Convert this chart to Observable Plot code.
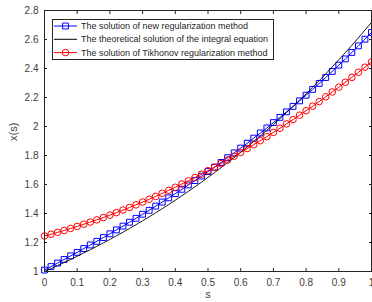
<!DOCTYPE html>
<html><head><meta charset="utf-8">
<script src="https://cdn.jsdelivr.net/npm/d3@7"></script>
<script src="https://cdn.jsdelivr.net/npm/@observablehq/plot@0.6"></script>
<style>body{margin:0;background:#fff;overflow:hidden}</style>
</head><body><div id="chart"></div>
<script>
const s = [0,0.02,0.04,0.06,0.08,0.1,0.12,0.14,0.16,0.18,0.2,0.22,0.24,0.26,0.28,0.3,0.32,0.34,0.36,0.38,0.4,0.42,0.44,0.46,0.48,0.5,0.52,0.54,0.56,0.58,0.6,0.62,0.64,0.66,0.68,0.7,0.72,0.74,0.76,0.78,0.8,0.82,0.84,0.86,0.88,0.9,0.92,0.94,0.96,0.98,1];
const exact = [1.000,1.020,1.041,1.062,1.083,1.105,1.128,1.150,1.174,1.197,1.221,1.246,1.271,1.297,1.323,1.350,1.377,1.405,1.433,1.462,1.492,1.522,1.553,1.584,1.616,1.649,1.682,1.716,1.751,1.786,1.822,1.859,1.897,1.935,1.974,2.014,2.054,2.096,2.138,2.182,2.226,2.271,2.316,2.363,2.411,2.460,2.509,2.560,2.612,2.665,2.718];
const newMethod = [1.010,1.034,1.058,1.083,1.108,1.132,1.158,1.183,1.208,1.234,1.260,1.287,1.313,1.340,1.367,1.395,1.422,1.451,1.479,1.508,1.537,1.567,1.597,1.627,1.658,1.689,1.720,1.752,1.785,1.818,1.851,1.885,1.920,1.955,1.990,2.027,2.063,2.101,2.139,2.177,2.216,2.256,2.297,2.338,2.380,2.423,2.466,2.511,2.556,2.602,2.648];
const tikhonov = [1.245,1.257,1.270,1.283,1.297,1.311,1.326,1.341,1.356,1.372,1.389,1.406,1.424,1.442,1.460,1.479,1.498,1.518,1.539,1.560,1.581,1.603,1.625,1.648,1.671,1.695,1.719,1.744,1.769,1.795,1.821,1.848,1.875,1.902,1.930,1.959,1.988,2.018,2.048,2.078,2.109,2.140,2.172,2.205,2.238,2.271,2.305,2.339,2.374,2.409,2.445];
const xTicks = [0,0.1,0.2,0.3,0.4,0.5,0.6,0.7,0.8,0.9,1];
const yTicks = [1,1.2,1.4,1.6,1.8,2,2.2,2.4,2.6,2.8];
const legendLabels = ["The solution of new regularization method","The theoretical solution of the integral equation","The solution of Tikhonov regularization method"];
const legendColors = ["#0000ff","#000000","#ff0000"];
const legendSymbols = ["square", null, "circle"];
const xLabel = "s", yLabel = "x(s)";

const data = s.map((v,i)=>({s:v, exact:exact[i], nm:newMethod[i], tk:tikhonov[i]}));
const fmt = d => String(+d.toFixed(1));
const blank = () => "";
const axisColor = "#262626", textColor = "#404040";

const chart = Plot.plot({
  width: 372, height: 302,
  marginLeft: 44, marginRight: 1, marginTop: 10, marginBottom: 31,
  style: {fontFamily: "'Liberation Sans', Arial, sans-serif", fontSize: "10px", color: textColor, background: "#fff", overflow: "visible"},
  x: {domain: [0,1]},
  y: {domain: [1,2.8]},
  marks: [
    Plot.axisX({ticks: xTicks, tickSize: 0, tickPadding: 7, tickFormat: fmt, label: null, fill: textColor}),
    Plot.axisY({ticks: yTicks, tickSize: 0, tickPadding: 6, tickFormat: fmt, label: null, fill: textColor}),
    Plot.axisX({anchor: "bottom", ticks: xTicks, tickSize: -3, tickFormat: blank, label: null, stroke: axisColor}),
    Plot.axisX({anchor: "top", ticks: xTicks, tickSize: -3, tickFormat: blank, label: null, stroke: axisColor}),
    Plot.axisY({anchor: "left", ticks: yTicks, tickSize: -3, tickFormat: blank, label: null, stroke: axisColor}),
    Plot.axisY({anchor: "right", ticks: yTicks, tickSize: -3, tickFormat: blank, label: null, stroke: axisColor}),
    Plot.line(data, {x: "s", y: "nm", stroke: "#0000ff", strokeWidth: 1}),
    Plot.dot(data, {x: "s", y: "nm", symbol: "square", r: 3.3, stroke: "#0000ff", fill: "none", strokeWidth: 1}),
    Plot.line(data, {x: "s", y: "exact", stroke: "#000", strokeWidth: 0.9}),
    Plot.line(data, {x: "s", y: "tk", stroke: "#ff0000", strokeWidth: 1}),
    Plot.dot(data, {x: "s", y: "tk", symbol: "circle", r: 3.3, stroke: "#ff0000", fill: "none", strokeWidth: 1}),
    Plot.frame({stroke: axisColor, strokeWidth: 1}),
    Plot.text([xLabel], {text: d=>d, frameAnchor: "bottom", dy: 26, fontSize: 11, fill: textColor}),
    Plot.text([yLabel], {text: d=>d, frameAnchor: "left", dx: -31, rotate: -90, fontSize: 11, fill: textColor})
  ]
});
document.getElementById("chart").appendChild(chart);

// legend inside the axes, top-left
const svg = d3.select(chart.tagName.toLowerCase() === "svg" ? chart : chart.querySelector("svg"));
const lg = svg.append("g").attr("font-family", "'Liberation Sans', Arial, sans-serif").attr("font-size", 9).attr("text-anchor", "start");
lg.append("rect").attr("x", 52.5).attr("y", 19.5).attr("width", 221).attr("height", 40)
  .attr("fill", "#fff").attr("stroke", axisColor).attr("stroke-width", 1);
const rowY = [26, 39.3, 52.6];
legendLabels.forEach((label, i) => {
  const y = rowY[i];
  lg.append("line").attr("x1", 54).attr("x2", 77).attr("y1", y).attr("y2", y)
    .attr("stroke", legendColors[i]).attr("stroke-width", 1);
  if (legendSymbols[i]) {
    lg.append("path").attr("transform", `translate(65.5,${y})`)
      .attr("d", d3.symbol(legendSymbols[i] === "square" ? d3.symbolSquare : d3.symbolCircle, Math.PI * 3.3 * 3.3)())
      .attr("fill", "none").attr("stroke", legendColors[i]).attr("stroke-width", 1);
  }
  lg.append("text").attr("x", 81).attr("y", y).attr("dy", "0.35em").attr("text-anchor", "start").attr("fill", "#262626").text(label);
});
</script>
</body></html>
